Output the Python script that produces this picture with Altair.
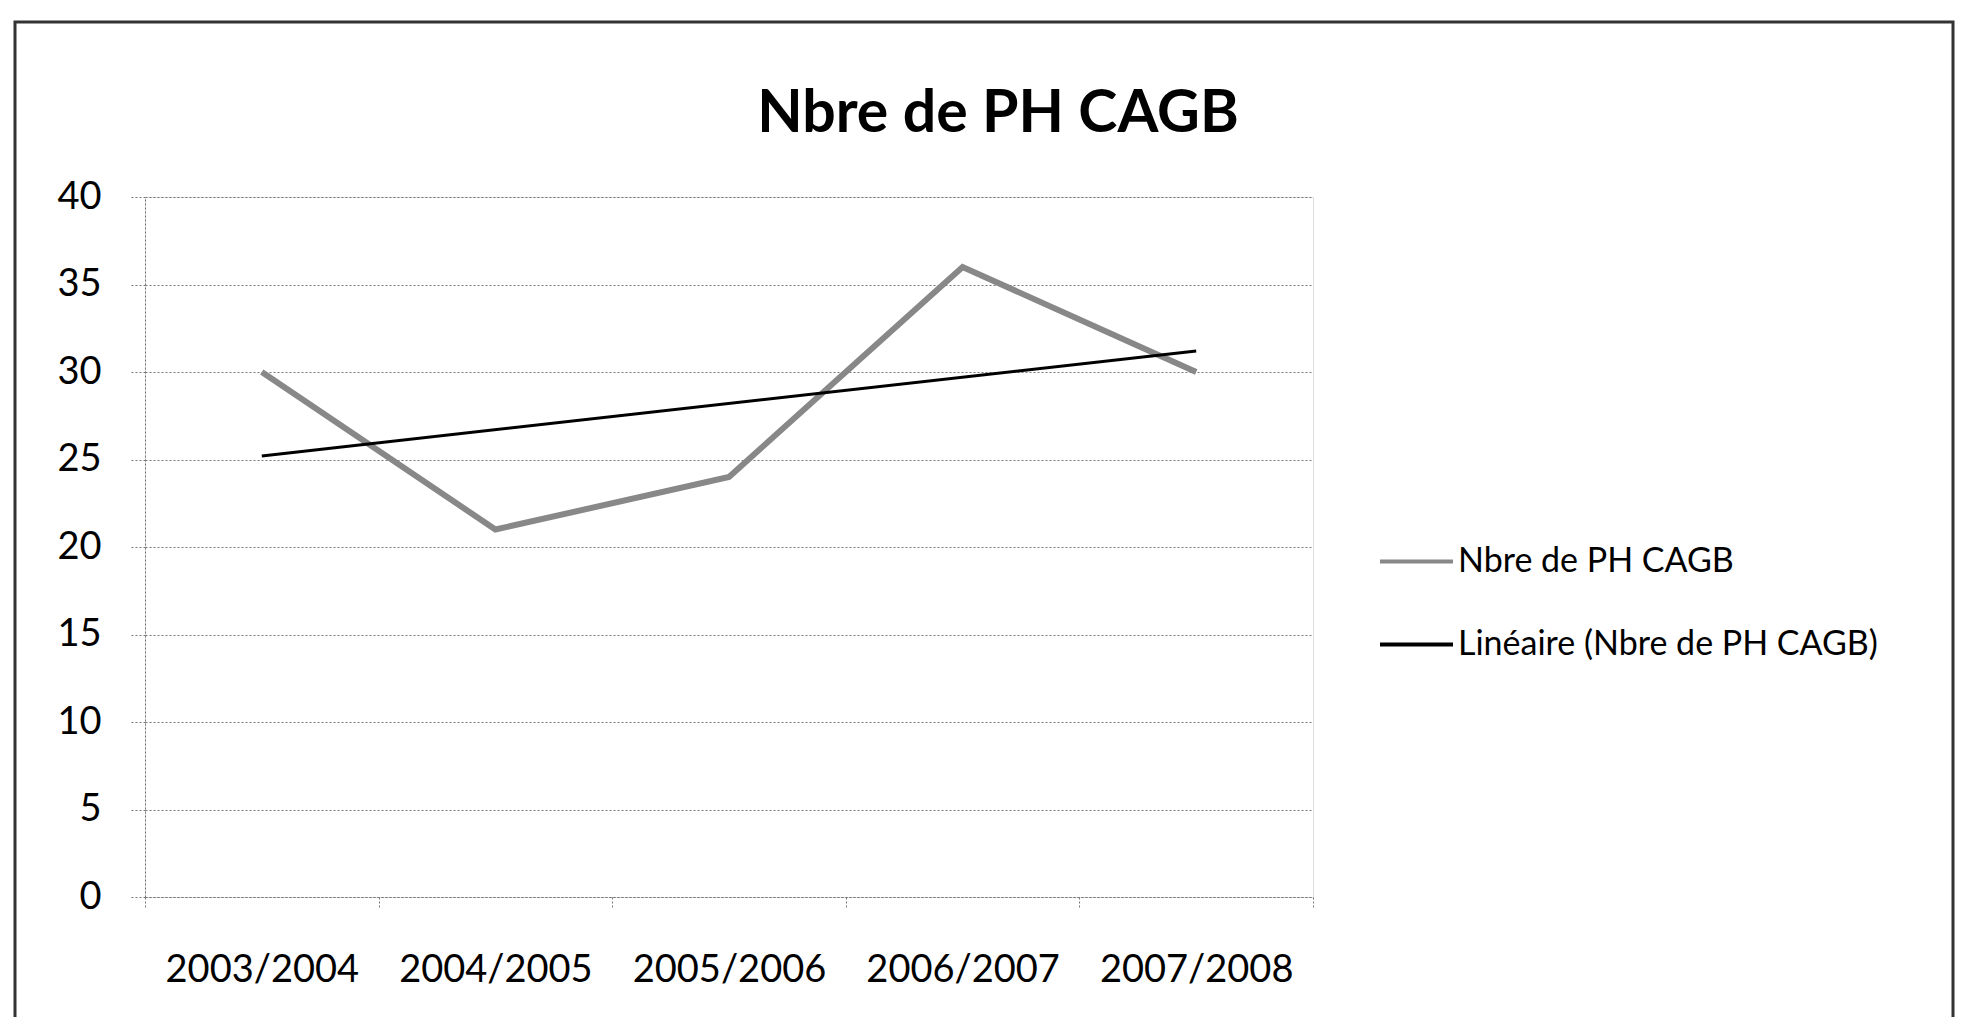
import json
import altair as alt
import pandas as pd

categories = ["2003/2004", "2004/2005", "2005/2006", "2006/2007", "2007/2008"]
values = [30, 21, 24, 36, 30]
series_name = "Nbre de PH CAGB"
trend_name = "Linéaire (Nbre de PH CAGB)"
y_ticks = [0, 5, 10, 15, 20, 25, 30, 35, 40]

df = pd.DataFrame({"cat": categories, "value": values, "idx": list(range(len(categories)))})

FONT = "Lato"
W, H = 1168, 700

x_enc = alt.X(
    "cat:N",
    scale=alt.Scale(domain=categories),
    axis=alt.Axis(
        title=None, labelAngle=0, labelFontSize=38, labelFont=FONT, labelColor="#000",
        labelLimit=0,
        tickBand="extent", tickSize=12, tickColor="#777", tickDash=[2, 2],
        domainColor="#777", domainDash=[2, 2], labelPadding=42, grid=False,
    ),
)
y_enc = alt.Y(
    "value:Q",
    scale=alt.Scale(domain=[0, 40], nice=False, zero=True),
    axis=alt.Axis(
        title=None, values=y_ticks, labelFontSize=38, labelFont=FONT, labelColor="#000",
        tickSize=15, tickColor="#777", tickDash=[2, 2], labelPadding=29,
        domainColor="#777", domainDash=[2, 2],
        grid=True, gridColor="#777", gridDash=[2, 2], gridWidth=1,
    ),
)
color_enc = alt.Color(
    "series:N",
    scale=alt.Scale(domain=[series_name, trend_name], range=["#888888", "#000000"]),
    legend=alt.Legend(
        title=None, orient="none", legendX=1233, legendY=326, padding=0,
        symbolType="stroke", symbolSize=5329, symbolStrokeWidth=4,
        labelFontSize=34, labelFont=FONT, labelColor="#000", labelOffset=3,
        labelLimit=0, rowPadding=27,
    ),
)

frame = alt.Chart(pd.DataFrame({"a": [0]})).mark_rect(
    fill=None, stroke="#333", strokeWidth=3
).encode(
    x=alt.value(-130), x2=alt.value(1808), y=alt.value(-175), y2=alt.value(900)
)

base = alt.Chart(df)

data_line = base.transform_calculate(series=f"'{series_name}'").mark_line(
    strokeWidth=6
).encode(x=x_enc, y=y_enc, color=color_enc)

trend_line = base.transform_regression(
    on="idx", regression="value", method="linear"
).transform_calculate(
    cat=f"{json.dumps(categories)}[datum.idx]",
    series=f"'{trend_name}'",
).mark_line(strokeWidth=3).encode(x="cat:N", y="value:Q", color="series:N")

chart = alt.layer(frame, data_line, trend_line).properties(
    width=W, height=H,
    title=alt.TitleParams(
        text="Nbre de PH CAGB", font=FONT, fontSize=59, fontWeight="bold", color="#000",
        anchor="middle", frame="group", dx=269, offset=-170, baseline="alphabetic",
    ),
    autosize=alt.AutoSizeParams(type="none"),
    padding={"left": 137, "top": 189, "right": 644, "bottom": 120},
).configure_view(stroke=None).configure(background="white")

chart.save("out.html", embed_options={"renderer": "svg", "actions": False})
